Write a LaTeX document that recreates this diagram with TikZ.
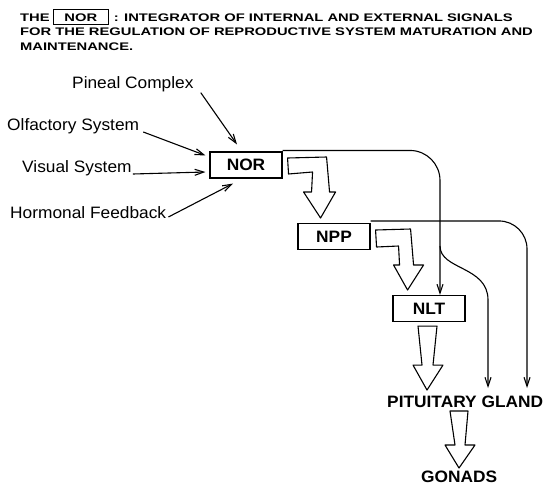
\documentclass[tikz,border=0pt]{standalone}
\usepackage{fontspec}
\setmainfont{Liberation Sans}
\newfontfamily\headfont[FakeStretch=1.34]{Liberation Sans}
\newfontfamily\labelfont[FakeStretch=1.05]{Liberation Sans}
\usetikzlibrary{arrows.meta}
\usetikzlibrary{positioning}
\tikzset{heading/.style = {inner sep=0pt, font=\headfont\fontsize{11}{14}\selectfont\bfseries},
         nucleus/.style = {draw, line width=1.1pt, minimum width=72pt, minimum height=26pt,
                           inner sep=0pt, font=\labelfont\fontsize{16.5}{18}\selectfont\bfseries},
         input/.style = {inner sep=0pt, font=\labelfont\fontsize{16.5}{18}\selectfont},
         organ/.style = {inner sep=0pt, font=\labelfont\fontsize{16.5}{18}\selectfont\bfseries},
         signal/.style = {line width=1.1pt, -{Straight Barb[length=9pt,width=6pt]}},
         hollow/.style = {line width=1.1pt, fill=white, line join=round}}

\begin{document}
\begin{tikzpicture}[x=1pt, y=-1pt]
    \useasboundingbox[fill=white] (0,0) rectangle (545,485);

    % heading
    \node[heading, anchor=base west] (the) at (20,21) {THE};
    \node[heading, draw, line width=0.8pt, minimum width=55pt, minimum height=15pt,
          right=3pt of the] (titlebox) {NOR};
    \node[heading, anchor=base west] (head1) at ([xshift=5pt]titlebox.east |- the.base)
        {: INTEGRATOR OF INTERNAL AND EXTERNAL SIGNALS};
    \node[heading, anchor=base west] (head2) at (20,35)
        {FOR THE REGULATION OF REPRODUCTIVE SYSTEM MATURATION AND};
    \node[heading, anchor=base west] (head3) at (20,50) {MAINTENANCE.};

    % nuclei
    \node[nucleus] (nor) at (246,165) {NOR};
    \node[nucleus] (npp) at (334,236.5) {NPP};
    \node[nucleus] (nlt) at (429,308.5) {NLT};
    \node[organ, anchor=base west] (pit) at (387,407) {PITUITARY GLAND};
    \node[organ, anchor=base west] (gonads) at (421,482) {GONADS};

    % inputs to the NOR
    \node[input, anchor=base west] (pineal) at (72,88) {Pineal Complex};
    \node[input, anchor=base west] (olfactory) at (7,130) {Olfactory System};
    \node[input, anchor=base west] (visual) at (22,172) {Visual System};
    \node[input, anchor=base west] (hormonal) at (10,218) {Hormonal Feedback};

    \draw[signal] ([shift={(7,1)}]pineal.south east) -- ([shift={(-9,-7)}]nor.north);
    \draw[signal] ([shift={(4,2)}]olfactory.base east) -- ([shift={(-4,4)}]nor.north west);
    \draw[signal] ([shift={(1,2)}]visual.base east) -- ([shift={(-4,7)}]nor.west);
    \draw[signal] ([shift={(2,-1)}]hormonal.base east) -- ([shift={(-13,5)}]nor.south);

    % direct lines down to the gland
    \coordinate (fork) at (440,246);
    \coordinate (glandA) at (488,388);
    \coordinate (glandB) at (527,388);
    \draw[signal, rounded corners=30pt] ([yshift=1pt]nor.north east) -| ([xshift=11pt]nlt.north);
    \draw[signal] (fork) .. controls (440,270) and (488,266) .. (488,300) -- (glandA);
    \draw[signal, rounded corners=28pt] ([yshift=2pt]npp.north east) -| (glandB);

    % hollow arrows
    \draw[hollow] ([shift={(5,-7)}]nor.east) -- ++(39,-1) -- ++(3,35) -- ++(6,0)
        -- ++(-15,26) -- ++(-17,-26) -- ++(8,0) -- ++(1,-20) -- ++(-24,2) -- cycle;
    \draw[hollow] ([shift={(5,-6.5)}]npp.east) -- ++(35,-1) -- ++(3,36) -- ++(10,0)
        -- ++(-16,25) -- ++(-14,-25) -- ++(6,0) -- ++(-1,-19) -- ++(-22,1) -- cycle;
    \draw[hollow] ([shift={(-11,4)}]nlt.south) -- ++(19,0) -- ++(-4,39) -- ++(10,0)
        -- ++(-16,25) -- ++(-14,-25) -- ++(9,0) -- cycle;
    \draw[hollow] ([shift={(63,4)}]pit.base west) -- ++(18,0) -- ++(-3,34) -- ++(10,0)
        -- ++(-16,23) -- ++(-14,-23) -- ++(10,0) -- cycle;
\end{tikzpicture}
\end{document}
